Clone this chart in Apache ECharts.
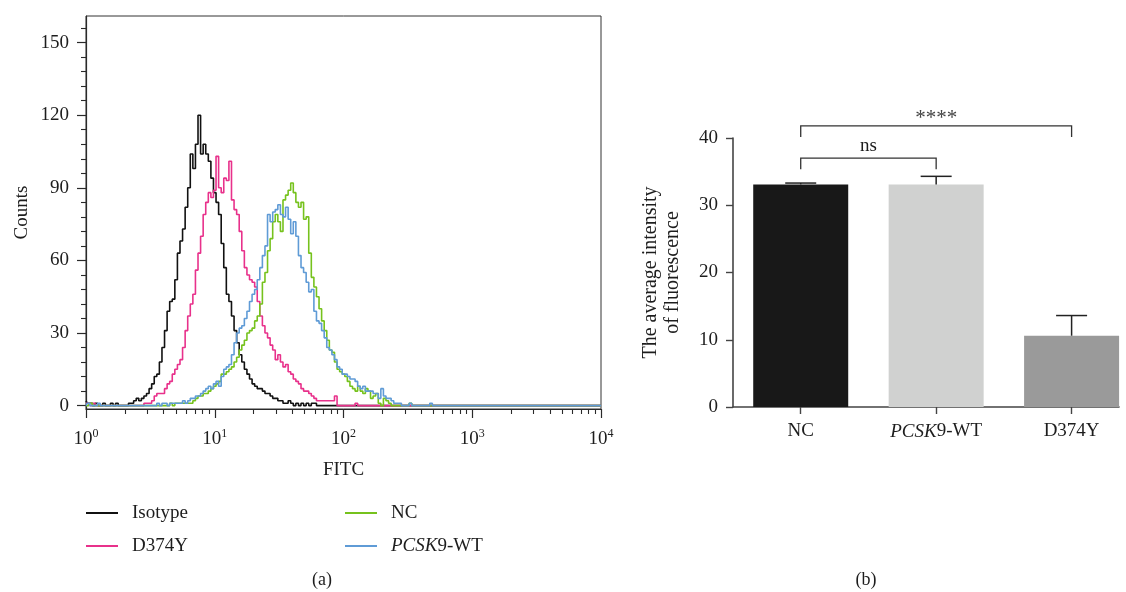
<!DOCTYPE html>
<html><head><meta charset="utf-8">
<script src="https://cdn.jsdelivr.net/npm/echarts@6/dist/echarts.min.js"></script>
<style>html,body{margin:0;padding:0;background:#fff}#c{width:1126px;height:592px}</style>
</head><body><div id="c"></div>
<script>
// ---------- Panel (a): flow cytometry histograms ----------
const CH_STEP = 0.02;          // decades of FITC per channel
const FITC_DECADES = 4;        // axis runs 10^0 .. 10^4
const histNames = ['Isotype', 'D374Y', 'NC', 'PCSK9-WT'];
const isotype = [2,1,1,0,1,0,0,1,0,0,
  1,0,1,0,0,0,0,1,1,2,
  3,2,3,4,5,7,9,12,13,18,
  24,31,39,43,44,52,63,68,73,82,
  90,104,98,108,120,104,108,104,101,94,
  88,84,79,67,57,46,43,37,31,26,
  21,18,15,13,11,9,8,7,7,6,
  5,5,4,3,3,2,2,1,1,2,
  1,0,1,0,1,0,1,0,1,1,
  0];
const d374y = [1,1,0,1,0,0,0,0,0,0,
  0,0,0,0,0,0,0,0,0,0,
  0,0,0,1,1,1,2,4,5,5,
  5,7,9,10,13,15,17,19,24,31,
  37,42,46,56,63,70,79,84,88,86,
  89,103,90,88,94,93,101,85,81,79,
  72,64,57,54,52,51,49,43,37,33,
  30,28,25,23,19,21,18,16,17,14,
  13,11,10,9,7,6,6,5,4,3,
  2,2,2,2,2,2,2,4,0,0,
  0,0,0,0,0,1,0];
const nc = [0,0,1,0,0,0,0,0,0,0,
  0,0,0,0,0,0,0,0,0,0,
  0,0,0,0,0,0,0,0,0,0,
  0,0,0,1,0,1,1,1,1,1,
  1,1,2,3,4,4,5,5,6,7,
  8,9,10,13,13,14,15,16,18,20,
  23,25,27,30,31,32,35,37,42,51,
  55,64,69,76,79,76,72,85,87,89,
  92,88,84,82,84,77,78,63,53,49,
  45,40,35,31,27,23,22,18,15,14,
  13,12,10,8,7,6,8,6,5,7,
  6,3,4,5,1,0,3,2,1,0,
  0,0,0,0,0,0,1,0];
const pcsk9wt = [0,1,0,0,0,1,0,0,0,0,
  0,0,0,0,0,0,0,0,0,0,
  0,0,0,0,0,0,0,0,1,0,
  1,1,0,1,1,1,1,1,2,1,
  2,3,3,4,4,5,6,7,8,7,
  9,10,8,12,15,16,17,21,26,30,
  32,33,36,39,43,46,48,52,57,62,
  66,79,76,80,81,83,79,78,82,77,
  71,76,70,62,57,55,51,47,48,39,
  35,34,31,28,24,23,21,19,16,15,
  13,13,12,11,11,10,8,7,8,6,
  6,6,5,5,3,7,4,3,3,2,
  1,1,1,0,0,0,1,0,0,0,
  0,0,0,0,1,0];
const histCounts = [isotype, d374y, nc, pcsk9wt];
const histColors = ['#111111', '#e8318b', '#76c21d', '#5f9bd6'];
const countTicks = [0, 30, 60, 90, 120, 150];
const countMinorTicks = [6,12,18,24,36,42,48,54,66,72,78,84,96,102,108,114,126,132,138,144,156];
const fitcDecadeTicks = [0, 1, 2, 3, 4];
const fitcMinorMultipliers = [2, 3, 4, 5, 6, 7, 8, 9];

// ---------- Panel (b): bar chart ----------
const barCategories = ['NC', 'PCSK9-WT', 'D374Y'];
const barMeans = [33.1, 33.1, 10.6];
const barErrors = [0.2, 1.2, 3.0];
const barColors = ['#181818', '#d0d1d0', '#9a9a9a'];
const barTicks = [0, 10, 20, 30, 40];
const sigPairs = [[0, 1], [0, 2]];
const sigLevels = [37.0, 41.8];
const sigLabels = ['ns', '****'];

// ---------- build ----------
const FONT = 'Liberation Serif';
const TXT = '#1d1d1d';
const AX = '#2a2a2a';

const fitcMinorTicks = [];
for (let n = 0; n < FITC_DECADES; n++) fitcMinorMultipliers.forEach(k => fitcMinorTicks.push(n + Math.log10(k)));

const histSeries = histNames.map((name, s) => {
  const data = histCounts[s].map((c, i) => [i * CH_STEP, c]);
  data.push([FITC_DECADES, 0]);
  return {
    name, type: 'line', xAxisIndex: 0, yAxisIndex: 0, data,
    step: 'middle', showSymbol: false, symbol: 'none',
    lineStyle: { color: histColors[s], width: 1.6 }, itemStyle: { color: histColors[s] },
    z: 2 + s, animation: false
  };
});

const catFmt = name => name === 'PCSK9-WT' ? '{i|PCSK}{n|9-WT}' : '{n|' + name + '}';

const option = {
  backgroundColor: '#fff',
  animation: false,
  title: [
    { text: '(a)', left: 317, top: 566, textAlign: 'center', textStyle: { fontFamily: FONT, fontSize: 18, fontWeight: 'normal', color: TXT } },
    { text: '(b)', left: 861, top: 566, textAlign: 'center', textStyle: { fontFamily: FONT, fontSize: 18, fontWeight: 'normal', color: TXT } }
  ],
  legend: [
    { data: ['Isotype', 'D374Y'], orient: 'vertical', left: 86, top: 503, padding: 0, itemWidth: 32, itemHeight: 2, icon: 'rect', itemGap: 13,
      textStyle: { fontFamily: FONT, fontSize: 19, color: TXT, lineHeight: 20, padding: [0, 0, 0, 9] }, selectedMode: false },
    { data: ['NC', 'PCSK9-WT'], orient: 'vertical', left: 345, top: 503, padding: 0, itemWidth: 32, itemHeight: 2, icon: 'rect', itemGap: 13,
      formatter: catFmt,
      textStyle: { fontFamily: FONT, fontSize: 19, color: TXT, lineHeight: 20, padding: [0, 0, 0, 9],
        rich: { i: { fontFamily: FONT, fontSize: 19, fontStyle: 'italic', color: TXT }, n: { fontFamily: FONT, fontSize: 19, color: TXT } } },
      selectedMode: false }
  ],
  grid: [
    { left: 86, top: 16, width: 515, height: 393, show: true, borderColor: '#333', borderWidth: 1, backgroundColor: 'transparent' },
    { left: 733, top: 138, width: 386, height: 269 }
  ],
  xAxis: [
    { gridIndex: 0, type: 'value', min: 0, max: FITC_DECADES, position: 'bottom',
      axisLine: { onZero: false, lineStyle: { color: AX, width: 1.2 } },
      axisTick: { customValues: fitcDecadeTicks, length: 9, lineStyle: { color: AX, width: 1.2 } },
      axisLabel: { customValues: fitcDecadeTicks, margin: 19, formatter: v => '{b|10}{s|' + v + '}',
        rich: { b: { fontFamily: FONT, fontSize: 19, color: TXT, lineHeight: 22 }, s: { fontFamily: FONT, fontSize: 12, color: TXT, verticalAlign: 'top', lineHeight: 12 } } },
      splitLine: { show: false },
      name: 'FITC', nameLocation: 'middle', nameGap: 52, nameTextStyle: { fontFamily: FONT, fontSize: 19, color: TXT } },
    { gridIndex: 0, type: 'value', min: 0, max: FITC_DECADES, position: 'bottom',
      axisLine: { show: false, onZero: false },
      axisTick: { customValues: fitcMinorTicks, length: 5, lineStyle: { color: AX, width: 1.1 } },
      axisLabel: { show: false }, splitLine: { show: false } },
    { gridIndex: 1, type: 'value', min: -0.5, max: 2.35,
      axisLine: { onZero: false, lineStyle: { color: '#444', width: 1.6 } },
      axisTick: { customValues: [0, 1, 2], length: 7, lineStyle: { color: '#444', width: 1.4 } },
      axisLabel: { customValues: [0, 1, 2], margin: 15, formatter: v => catFmt(barCategories[Math.round(v)]),
        rich: { i: { fontFamily: FONT, fontSize: 19, fontStyle: 'italic', color: TXT }, n: { fontFamily: FONT, fontSize: 19, color: TXT } } },
      splitLine: { show: false } }
  ],
  yAxis: [
    { gridIndex: 0, type: 'value', min: -1.4, max: 161, position: 'left',
      axisLine: { onZero: false, lineStyle: { color: AX, width: 1.2 } },
      axisTick: { customValues: countTicks, length: 9, lineStyle: { color: AX, width: 1.2 } },
      axisLabel: { customValues: countTicks, margin: 17, fontFamily: FONT, fontSize: 19, color: TXT },
      splitLine: { show: false },
      name: 'Counts', nameLocation: 'middle', nameRotate: 90, nameGap: 54, nameTextStyle: { fontFamily: FONT, fontSize: 19, color: TXT } },
    { gridIndex: 0, type: 'value', min: -1.4, max: 161, position: 'left',
      axisLine: { show: false, onZero: false },
      axisTick: { customValues: countMinorTicks, length: 5, lineStyle: { color: AX, width: 1.1 } },
      axisLabel: { show: false }, splitLine: { show: false } },
    { gridIndex: 1, type: 'value', min: 0, max: 40, interval: 10, position: 'left',
      axisLine: { show: true, onZero: false, lineStyle: { color: '#444', width: 1.6 } },
      axisTick: { show: true, length: 7, lineStyle: { color: '#444', width: 1.4 } },
      axisLabel: { margin: 15, fontFamily: FONT, fontSize: 19, color: TXT },
      splitLine: { show: false },
      name: 'The average intensity\nof fluorescence', nameLocation: 'middle', nameRotate: 90, nameGap: 49,
      nameTextStyle: { fontFamily: FONT, fontSize: 20, color: TXT, lineHeight: 22 } }
  ],
  series: [
    ...histSeries,
    { type: 'bar', xAxisIndex: 2, yAxisIndex: 2, barWidth: 95,
      data: barMeans.map((m, i) => ({ value: [i, m], itemStyle: { color: barColors[i] } })), z: 2 },
    { type: 'custom', xAxisIndex: 2, yAxisIndex: 2, clip: false, z: 3,
      data: barMeans.map((m, i) => [i, m, barErrors[i]]),
      renderItem: (params, api) => {
        const x = api.value(0), m = api.value(1), e = api.value(2);
        const p0 = api.coord([x, m]), p1 = api.coord([x, m + e]);
        const st = { stroke: '#222', lineWidth: 1.5 };
        return { type: 'group', children: [
          { type: 'line', shape: { x1: p0[0], y1: p0[1], x2: p1[0], y2: p1[1] }, style: st },
          { type: 'line', shape: { x1: p1[0] - 15.5, y1: p1[1], x2: p1[0] + 15.5, y2: p1[1] }, style: st }
        ] };
      } },
    { type: 'custom', xAxisIndex: 2, yAxisIndex: 2, clip: false, z: 3,
      data: sigPairs.map((p, i) => [p[0], p[1], sigLevels[i]]),
      renderItem: (params, api) => {
        const a = api.coord([api.value(0), api.value(2)]);
        const b = api.coord([api.value(1), api.value(2)]);
        const lab = sigLabels[params.dataIndex];
        const star = lab.indexOf('*') >= 0;
        return { type: 'group', children: [
          { type: 'polyline', shape: { points: [[a[0], a[1] + 11], [a[0], a[1]], [b[0], b[1]], [b[0], b[1] + 11]] },
            style: { stroke: '#333', lineWidth: 1.3, fill: null } },
          { type: 'text', x: (a[0] + b[0]) / 2, y: a[1] - (star ? -3 : 3),
            style: { text: lab, align: 'center', verticalAlign: 'bottom', fontFamily: FONT, fontSize: star ? 21 : 19, fill: star ? '#444' : TXT } }
        ] };
      } }
  ]
};

const chart = echarts.init(document.getElementById('c'), null, { renderer: 'canvas' });
chart.setOption(option);
</script>
</body></html>
